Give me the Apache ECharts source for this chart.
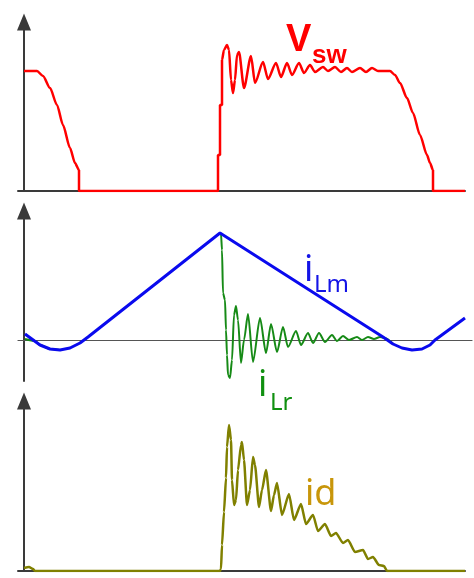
<!DOCTYPE html>
<html>
<head>
<meta charset="utf-8">
<script src="https://cdn.jsdelivr.net/npm/echarts@6/dist/echarts.min.js"></script>
<style>
  html, body { margin: 0; padding: 0; background: #fff; }
  #chart { width: 474px; height: 578px; }
</style>
</head>
<body>
<div id="chart"></div>
<script>
// time in arbitrary units, values normalised (switch node voltage, currents)
const vsw = [
  [0, 1.20], [1.3, 1.20], [1.9, 1.15], [2.6, 1.03], [3.3, 0.86], [3.9, 0.66],
  [4.6, 0.43], [5.1, 0.28], [5.5, 0.21], [5.5, 0], [19.4, 0], [19.4, 0.36],
  [19.6, 0.36], [19.6, 0.86], [19.8, 0.86], [19.8, 1.31], [20.0, 1.41],
  [20.3, 1.46], [20.5, 1.41], [20.7, 1.11], [20.9, 0.98], [21.1, 1.11],
  [21.3, 1.36], [21.5, 1.39], [22.0, 1.03], [22.7, 1.35], [23.1, 1.08],
  [23.9, 1.29], [24.4, 1.12], [25.2, 1.28], [25.7, 1.14], [26.3, 1.28],
  [26.8, 1.16], [27.5, 1.28], [28.0, 1.18], [28.6, 1.26], [29.1, 1.19],
  [29.9, 1.24], [30.4, 1.20], [31.1, 1.24], [31.7, 1.19], [32.3, 1.23],
  [32.8, 1.19], [33.6, 1.23], [34.2, 1.19], [34.8, 1.23], [35.4, 1.20],
  [36.6, 1.20], [37.1, 1.16], [37.6, 1.08], [38.3, 0.93], [38.9, 0.78],
  [39.6, 0.56], [40.3, 0.36], [40.6, 0.28], [40.9, 0.21], [40.9, 0], [44.1, 0]
];

const iLm = [
  [0.1, 0.06], [1.6, -0.05], [2.6, -0.09], [3.6, -0.10], [4.6, -0.08],
  [5.6, -0.03], [6.4, 0.03], [19.6, 1.07], [35.9, 0.03], [36.9, -0.04],
  [37.8, -0.08], [38.8, -0.10], [39.8, -0.09], [40.6, -0.05], [41.1, 0.0],
  [44.1, 0.22]
];

// iLr runs under iLm on the ramp, so only the visible parts are kept
const iLr = [
  [0.1, 0.01], [1.1, -0.01], [1.6, -0.05], [2.6, -0.09], [3.6, -0.10],
  null,
  [19.6, 1.07], [19.7, 1.06],
  [19.8, 0.90], [19.9, 0.47], [20.1, 0.40], [20.2, 0.10], [20.3, -0.15],
  [20.4, -0.35], [20.6, -0.38], [20.8, -0.20], [21.0, 0.25], [21.2, 0.34],
  [21.4, 0.20], [21.7, -0.23], [22.0, 0], [22.4, 0.26], [22.9, -0.22],
  [23.6, 0.22], [24.2, -0.13], [24.7, 0.16], [25.3, -0.12], [25.9, 0.13],
  [26.4, -0.07], [27.2, 0.09], [27.7, -0.05], [28.4, 0.07], [28.9, -0.03],
  [29.5, 0.07], [30.1, -0.02], [30.8, 0.05], [31.3, -0.01], [31.9, 0.04],
  [32.5, 0.0], [33.3, 0.03], [33.8, 0.0], [34.4, 0.03], [35.0, 0.01],
  [35.6, 0.03], [36.1, 0.02], [36.9, -0.04]
];

const id = [
  [0, 0.03], [0.5, 0.04], [0.9, 0.02], [1.1, 0], [19.6, 0], [19.7, 0.02],
  [19.8, 0.26], [20.0, 0.59], [20.2, 0.93], [20.3, 1.24], [20.5, 1.46],
  [20.7, 1.31], [20.8, 0.91], [21.0, 0.66], [21.2, 0.71], [21.4, 1.01],
  [21.7, 1.26], [21.8, 1.29], [22.0, 1.11], [22.3, 0.66], [22.6, 0.81],
  [22.9, 1.14], [23.1, 1.06], [23.5, 0.64], [23.8, 0.81], [24.2, 1.01],
  [24.7, 0.60], [25.0, 0.76], [25.3, 0.88], [25.8, 0.56], [26.5, 0.77],
  [27.0, 0.51], [27.7, 0.67], [28.2, 0.47], [28.9, 0.56], [29.4, 0.40],
  [30.1, 0.47], [30.7, 0.35], [31.2, 0.38], [31.9, 0.28], [32.4, 0.31],
  [33.1, 0.19], [33.9, 0.21], [34.4, 0.12], [34.9, 0.14], [35.5, 0.06],
  [36.0, 0.05], [36.3, 0], [44.1, 0]
];

const axisColor = "#3a3a3a";

function xAx(grid, max, lineColor, lineWidth) {
  return {
    gridIndex: grid, type: "value", min: -0.6, max: max,
    axisLine: { show: true, onZero: true, lineStyle: { color: lineColor, width: lineWidth } },
    axisTick: { show: false }, axisLabel: { show: false }, splitLine: { show: false }
  };
}
function yAx(grid, min, max) {
  return {
    gridIndex: grid, type: "value", min: min, max: max,
    axisLine: {
      show: true, onZero: true,
      symbol: ["none", "triangle"], symbolSize: [14, 17],
      lineStyle: { color: axisColor, width: 2 }
    },
    axisTick: { show: false }, axisLabel: { show: false }, splitLine: { show: false }
  };
}

const chart = echarts.init(document.getElementById("chart"));
chart.setOption({
  animation: false,
  backgroundColor: "#fff",
  grid: [
    { left: 18, right: 9, top: 22, height: 169 },
    { left: 18, right: 2, top: 211, height: 170 },
    { left: 18, right: 9, top: 401, height: 170 }
  ],
  xAxis: [
    xAx(0, 44.1, axisColor, 2),
    xAx(1, 44.8, "#555", 1.2),
    xAx(2, 44.1, axisColor, 2)
  ],
  yAxis: [
    yAx(0, 0, 1.69),
    yAx(1, -0.41, 1.29),
    yAx(2, 0, 1.70)
  ],
  series: [
    { name: "Vsw", type: "line", xAxisIndex: 0, yAxisIndex: 0, data: vsw,
      showSymbol: false, smooth: 0.25, smoothMonotone: "x",
      lineStyle: { color: "#ff0000", width: 2.5 } },
    { name: "iLr", type: "line", xAxisIndex: 1, yAxisIndex: 1, data: iLr,
      showSymbol: false, connectNulls: false, smooth: 0.25, smoothMonotone: "x",
      lineStyle: { color: "#168a16", width: 2 } },
    { name: "iLm", type: "line", xAxisIndex: 1, yAxisIndex: 1, data: iLm,
      showSymbol: false, lineStyle: { color: "#0a0aee", width: 3 } },
    { name: "id", type: "line", xAxisIndex: 2, yAxisIndex: 2, data: id,
      showSymbol: false, smooth: 0.2, smoothMonotone: "x",
      lineStyle: { color: "#808000", width: 2.5 } }
  ],
  graphic: [
    { type: "text", style: { text: "V", x: 286, y: 41, fill: "#ff0000", font: "bold 38px 'Liberation Sans'", verticalAlign: "middle" } },
    { type: "text", style: { text: "sw", x: 312, y: 56, fill: "#ff0000", font: "bold 26px 'Liberation Sans'", verticalAlign: "middle" } },
    { type: "text", style: { text: "i", x: 304, y: 271, fill: "#1414e6", font: "36px 'Noto Sans'", verticalAlign: "middle" } },
    { type: "text", style: { text: "Lm", x: 314, y: 285, fill: "#1414e6", font: "24px 'Noto Sans'", verticalAlign: "middle" } },
    { type: "text", style: { text: "i", x: 258, y: 386, fill: "#109010", font: "36px 'Noto Sans'", verticalAlign: "middle" } },
    { type: "text", style: { text: "Lr", x: 270, y: 403, fill: "#109010", font: "24px 'Noto Sans'", verticalAlign: "middle" } },
    { type: "text", style: { text: "id", x: 305, y: 495, fill: "#c8960a", font: "36px 'Noto Sans'", verticalAlign: "middle" } }
  ]
});
</script>
</body>
</html>
